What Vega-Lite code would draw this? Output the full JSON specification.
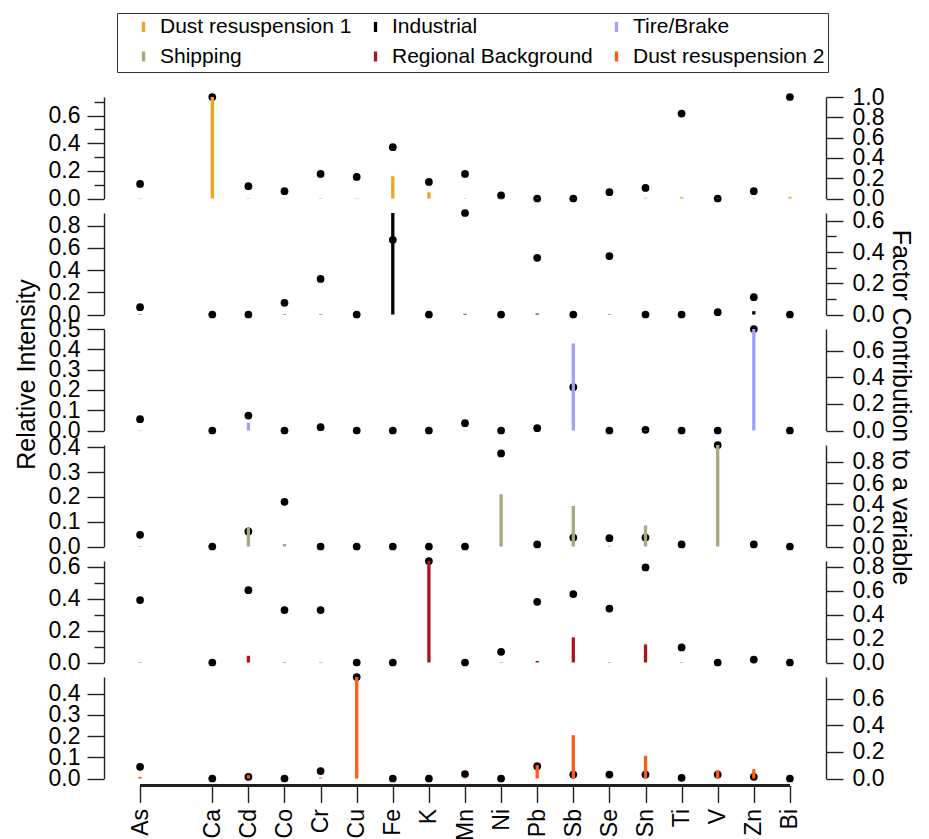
{
  "$schema": "https://vega.github.io/schema/vega-lite/v6.json",
  "autosize": {"type": "pad"},
  "padding": {"left": 14, "top": 12, "right": 4, "bottom": 0},
  "background": "white",
  "bounds": "flush",
  "spacing": 14,
  "config": {
    "view": {"stroke": null},
    "font": "Liberation Sans",
    "axis": {"labelFont": "Liberation Sans", "labelFontSize": 23, "labelColor": "#000", "tickColor": "#222", "domainColor": "#222", "tickWidth": 1.4, "domainWidth": 1.4, "grid": false, "titleFont": "Liberation Sans", "titleFontSize": 25, "titleFontWeight": "normal", "titleColor": "#000", "labelPadding": 7, "tickSize": 17, "labelOverlap": false, "labelFlush": false},
    "legend": {"labelFont": "Liberation Sans", "labelFontSize": 21, "labelColor": "#000", "labelLimit": 400}
  },
  "data": {"values": [
    {"factor": "Dust resuspension 1", "element": "As", "intensity": 0.003, "contribution": 0.144},
    {"factor": "Dust resuspension 1", "element": "Ca", "intensity": 0.734, "contribution": 1.0},
    {"factor": "Dust resuspension 1", "element": "Cd", "intensity": 0.003, "contribution": 0.121},
    {"factor": "Dust resuspension 1", "element": "Co", "intensity": 0.002, "contribution": 0.072},
    {"factor": "Dust resuspension 1", "element": "Cr", "intensity": 0.003, "contribution": 0.242},
    {"factor": "Dust resuspension 1", "element": "Cu", "intensity": 0.003, "contribution": 0.213},
    {"factor": "Dust resuspension 1", "element": "Fe", "intensity": 0.161, "contribution": 0.505},
    {"factor": "Dust resuspension 1", "element": "K", "intensity": 0.045, "contribution": 0.163},
    {"factor": "Dust resuspension 1", "element": "Mn", "intensity": 0.003, "contribution": 0.242},
    {"factor": "Dust resuspension 1", "element": "Ni", "intensity": 0.002, "contribution": 0.03},
    {"factor": "Dust resuspension 1", "element": "Pb", "intensity": 0.002, "contribution": 0.0},
    {"factor": "Dust resuspension 1", "element": "Sb", "intensity": 0.001, "contribution": 0.0},
    {"factor": "Dust resuspension 1", "element": "Se", "intensity": 0.002, "contribution": 0.062},
    {"factor": "Dust resuspension 1", "element": "Sn", "intensity": 0.005, "contribution": 0.104},
    {"factor": "Dust resuspension 1", "element": "Ti", "intensity": 0.01, "contribution": 0.837},
    {"factor": "Dust resuspension 1", "element": "V", "intensity": 0.002, "contribution": 0.0},
    {"factor": "Dust resuspension 1", "element": "Zn", "intensity": 0.003, "contribution": 0.072},
    {"factor": "Dust resuspension 1", "element": "Bi", "intensity": 0.012, "contribution": 1.0},

    {"factor": "Industrial", "element": "As", "intensity": 0.003, "contribution": 0.047},
    {"factor": "Industrial", "element": "Ca", "intensity": 0.0, "contribution": 0.0},
    {"factor": "Industrial", "element": "Cd", "intensity": 0.0, "contribution": 0.0},
    {"factor": "Industrial", "element": "Co", "intensity": 0.003, "contribution": 0.075},
    {"factor": "Industrial", "element": "Cr", "intensity": 0.003, "contribution": 0.228},
    {"factor": "Industrial", "element": "Cu", "intensity": 0.0, "contribution": 0.0},
    {"factor": "Industrial", "element": "Fe", "intensity": 0.915, "contribution": 0.478},
    {"factor": "Industrial", "element": "K", "intensity": 0.0, "contribution": 0.0},
    {"factor": "Industrial", "element": "Mn", "intensity": 0.006, "contribution": 0.65},
    {"factor": "Industrial", "element": "Ni", "intensity": 0.0, "contribution": 0.0},
    {"factor": "Industrial", "element": "Pb", "intensity": 0.008, "contribution": 0.363},
    {"factor": "Industrial", "element": "Sb", "intensity": 0.0, "contribution": 0.0},
    {"factor": "Industrial", "element": "Se", "intensity": 0.003, "contribution": 0.374},
    {"factor": "Industrial", "element": "Sn", "intensity": 0.0, "contribution": 0.0},
    {"factor": "Industrial", "element": "Ti", "intensity": 0.0, "contribution": 0.0},
    {"factor": "Industrial", "element": "V", "intensity": 0.0, "contribution": 0.015},
    {"factor": "Industrial", "element": "Zn", "intensity": 0.03, "contribution": 0.111},
    {"factor": "Industrial", "element": "Bi", "intensity": 0.0, "contribution": 0.0},

    {"factor": "Tire/Brake", "element": "As", "intensity": 0.002, "contribution": 0.085},
    {"factor": "Tire/Brake", "element": "Ca", "intensity": 0.0, "contribution": 0.0},
    {"factor": "Tire/Brake", "element": "Cd", "intensity": 0.039, "contribution": 0.113},
    {"factor": "Tire/Brake", "element": "Co", "intensity": 0.0, "contribution": 0.0},
    {"factor": "Tire/Brake", "element": "Cr", "intensity": 0.0, "contribution": 0.025},
    {"factor": "Tire/Brake", "element": "Cu", "intensity": 0.0, "contribution": 0.0},
    {"factor": "Tire/Brake", "element": "Fe", "intensity": 0.0, "contribution": 0.0},
    {"factor": "Tire/Brake", "element": "K", "intensity": 0.0, "contribution": 0.0},
    {"factor": "Tire/Brake", "element": "Mn", "intensity": 0.002, "contribution": 0.055},
    {"factor": "Tire/Brake", "element": "Ni", "intensity": 0.0, "contribution": 0.0},
    {"factor": "Tire/Brake", "element": "Pb", "intensity": 0.0, "contribution": 0.017},
    {"factor": "Tire/Brake", "element": "Sb", "intensity": 0.429, "contribution": 0.326},
    {"factor": "Tire/Brake", "element": "Se", "intensity": 0.0, "contribution": 0.0},
    {"factor": "Tire/Brake", "element": "Sn", "intensity": 0.002, "contribution": 0.005},
    {"factor": "Tire/Brake", "element": "Ti", "intensity": 0.0, "contribution": 0.0},
    {"factor": "Tire/Brake", "element": "V", "intensity": 0.0, "contribution": 0.0},
    {"factor": "Tire/Brake", "element": "Zn", "intensity": 0.5, "contribution": 0.765},
    {"factor": "Tire/Brake", "element": "Bi", "intensity": 0.0, "contribution": 0.0},

    {"factor": "Shipping", "element": "As", "intensity": 0.002, "contribution": 0.11},
    {"factor": "Shipping", "element": "Ca", "intensity": 0.0, "contribution": 0.0},
    {"factor": "Shipping", "element": "Cd", "intensity": 0.075, "contribution": 0.142},
    {"factor": "Shipping", "element": "Co", "intensity": 0.01, "contribution": 0.423},
    {"factor": "Shipping", "element": "Cr", "intensity": 0.0, "contribution": 0.0},
    {"factor": "Shipping", "element": "Cu", "intensity": 0.0, "contribution": 0.0},
    {"factor": "Shipping", "element": "Fe", "intensity": 0.0, "contribution": 0.0},
    {"factor": "Shipping", "element": "K", "intensity": 0.0, "contribution": 0.0},
    {"factor": "Shipping", "element": "Mn", "intensity": 0.0, "contribution": 0.0},
    {"factor": "Shipping", "element": "Ni", "intensity": 0.211, "contribution": 0.88},
    {"factor": "Shipping", "element": "Pb", "intensity": 0.0, "contribution": 0.02},
    {"factor": "Shipping", "element": "Sb", "intensity": 0.164, "contribution": 0.085},
    {"factor": "Shipping", "element": "Se", "intensity": 0.003, "contribution": 0.079},
    {"factor": "Shipping", "element": "Sn", "intensity": 0.085, "contribution": 0.085},
    {"factor": "Shipping", "element": "Ti", "intensity": 0.0, "contribution": 0.02},
    {"factor": "Shipping", "element": "V", "intensity": 0.41, "contribution": 0.96},
    {"factor": "Shipping", "element": "Zn", "intensity": 0.0, "contribution": 0.02},
    {"factor": "Shipping", "element": "Bi", "intensity": 0.0, "contribution": 0.0},

    {"factor": "Regional Background", "element": "As", "intensity": 0.002, "contribution": 0.523},
    {"factor": "Regional Background", "element": "Ca", "intensity": 0.0, "contribution": 0.0},
    {"factor": "Regional Background", "element": "Cd", "intensity": 0.042, "contribution": 0.606},
    {"factor": "Regional Background", "element": "Co", "intensity": 0.002, "contribution": 0.439},
    {"factor": "Regional Background", "element": "Cr", "intensity": 0.002, "contribution": 0.439},
    {"factor": "Regional Background", "element": "Cu", "intensity": 0.0, "contribution": 0.0},
    {"factor": "Regional Background", "element": "Fe", "intensity": 0.0, "contribution": 0.0},
    {"factor": "Regional Background", "element": "K", "intensity": 0.636, "contribution": 0.85},
    {"factor": "Regional Background", "element": "Mn", "intensity": 0.0, "contribution": 0.0},
    {"factor": "Regional Background", "element": "Ni", "intensity": 0.002, "contribution": 0.09},
    {"factor": "Regional Background", "element": "Pb", "intensity": 0.01, "contribution": 0.508},
    {"factor": "Regional Background", "element": "Sb", "intensity": 0.157, "contribution": 0.573},
    {"factor": "Regional Background", "element": "Se", "intensity": 0.002, "contribution": 0.452},
    {"factor": "Regional Background", "element": "Sn", "intensity": 0.113, "contribution": 0.796},
    {"factor": "Regional Background", "element": "Ti", "intensity": 0.002, "contribution": 0.126},
    {"factor": "Regional Background", "element": "V", "intensity": 0.0, "contribution": 0.0},
    {"factor": "Regional Background", "element": "Zn", "intensity": 0.0, "contribution": 0.025},
    {"factor": "Regional Background", "element": "Bi", "intensity": 0.0, "contribution": 0.0},

    {"factor": "Dust resuspension 2", "element": "As", "intensity": 0.008, "contribution": 0.088},
    {"factor": "Dust resuspension 2", "element": "Ca", "intensity": 0.0, "contribution": 0.0},
    {"factor": "Dust resuspension 2", "element": "Cd", "intensity": 0.015, "contribution": 0.013},
    {"factor": "Dust resuspension 2", "element": "Co", "intensity": 0.0, "contribution": 0.0},
    {"factor": "Dust resuspension 2", "element": "Cr", "intensity": 0.005, "contribution": 0.056},
    {"factor": "Dust resuspension 2", "element": "Cu", "intensity": 0.478, "contribution": 0.763},
    {"factor": "Dust resuspension 2", "element": "Fe", "intensity": 0.0, "contribution": 0.0},
    {"factor": "Dust resuspension 2", "element": "K", "intensity": 0.0, "contribution": 0.0},
    {"factor": "Dust resuspension 2", "element": "Mn", "intensity": 0.005, "contribution": 0.033},
    {"factor": "Dust resuspension 2", "element": "Ni", "intensity": 0.0, "contribution": 0.0},
    {"factor": "Dust resuspension 2", "element": "Pb", "intensity": 0.063, "contribution": 0.093},
    {"factor": "Dust resuspension 2", "element": "Sb", "intensity": 0.204, "contribution": 0.03},
    {"factor": "Dust resuspension 2", "element": "Se", "intensity": 0.0, "contribution": 0.03},
    {"factor": "Dust resuspension 2", "element": "Sn", "intensity": 0.107, "contribution": 0.03},
    {"factor": "Dust resuspension 2", "element": "Ti", "intensity": 0.0, "contribution": 0.005},
    {"factor": "Dust resuspension 2", "element": "V", "intensity": 0.04, "contribution": 0.03},
    {"factor": "Dust resuspension 2", "element": "Zn", "intensity": 0.044, "contribution": 0.013},
    {"factor": "Dust resuspension 2", "element": "Bi", "intensity": 0.0, "contribution": 0.0}
  ]},
  "vconcat": [
    {
      "width": 722, "height": 101.5,
      "transform": [{"filter": "datum.factor === 'Dust resuspension 1'"}],
      "encoding": {"x": {"field": "element", "type": "nominal", "scale": {"type": "point", "padding": 1, "domain": ["As", " ", "Ca", "Cd", "Co", "Cr", "Cu", "Fe", "K", "Mn", "Ni", "Pb", "Sb", "Se", "Sn", "Ti", "V", "Zn", "Bi"]}, "axis": null}},
      "layer": [
        {"mark": {"type": "point", "filled": true, "size": 60, "color": "#000", "opacity": 1},
         "encoding": {"y": {"field": "contribution", "type": "quantitative", "scale": {"nice": false, "zero": true}, "axis": {"orient": "right", "title": null, "tickSize": 17, "labelPadding": 9, "values": [0, 0.2, 0.4, 0.6, 0.8, 1.0], "format": ".1f"}}}},
        {"mark": {"type": "rule", "strokeWidth": 3.3, "strokeCap": "butt"},
         "encoding": {
           "y": {"field": "intensity", "type": "quantitative", "scale": {"nice": false, "zero": true}, "axis": {"orient": "left", "title": null, "values": [0, 0.1, 0.2, 0.3, 0.4, 0.5, 0.6, 0.7], "labelExpr": "abs(datum.value*10 - 2*round(datum.value*5)) < 0.01 ? format(datum.value, '.1f') : ''", "tickSize": {"condition": {"test": "abs(datum.value*10 - 2*round(datum.value*5)) > 0.01", "value": 10}, "value": 17}}},
           "y2": {"datum": 0},
           "color": {"field": "factor", "type": "nominal", "scale": {"domain": ["Dust resuspension 1", "Industrial", "Tire/Brake", "Shipping", "Regional Background", "Dust resuspension 2"], "range": ["#F5A31A", "#000000", "#A0A0FF", "#A9A87A", "#AE1519", "#FF5B14"]},
             "legend": {"orient": "none", "direction": "horizontal", "legendX": 13, "legendY": -84, "title": null, "columns": 3, "symbolType": "M0,-1L0,1", "symbolSize": 100, "symbolStrokeWidth": 3.3, "strokeColor": "#333", "padding": 3, "rowPadding": 5, "columnPadding": 0, "symbolOffset": 13, "labelOffset": 6}}
         }}
      ],
      "resolve": {"scale": {"y": "independent"}}
    },
    {
      "width": 722, "height": 101.5,
      "transform": [{"filter": "datum.factor === 'Industrial'"}],
      "encoding": {"x": {"field": "element", "type": "nominal", "scale": {"type": "point", "padding": 1, "domain": ["As", " ", "Ca", "Cd", "Co", "Cr", "Cu", "Fe", "K", "Mn", "Ni", "Pb", "Sb", "Se", "Sn", "Ti", "V", "Zn", "Bi"]}, "axis": null}},
      "layer": [
        {"mark": {"type": "point", "filled": true, "size": 60, "color": "#000", "opacity": 1},
         "encoding": {"y": {"field": "contribution", "type": "quantitative", "scale": {"nice": false, "zero": true}, "axis": {"orient": "right", "title": null, "labelPadding": 9, "values": [0, 0.1, 0.2, 0.3, 0.4, 0.5, 0.6], "labelExpr": "abs(datum.value*10 - 2*round(datum.value*5)) < 0.01 ? format(datum.value, '.1f') : ''", "tickSize": {"condition": {"test": "abs(datum.value*10 - 2*round(datum.value*5)) > 0.01", "value": 10}, "value": 17}}}}},
        {"mark": {"type": "rule", "strokeWidth": 3.3, "strokeCap": "butt"},
         "encoding": {
           "y": {"field": "intensity", "type": "quantitative", "scale": {"nice": false, "zero": true}, "axis": {"orient": "left", "title": null, "tickSize": 17, "values": [0, 0.2, 0.4, 0.6, 0.8], "format": ".1f"}},
           "y2": {"datum": 0},
           "color": {"field": "factor", "type": "nominal", "scale": {"domain": ["Dust resuspension 1", "Industrial", "Tire/Brake", "Shipping", "Regional Background", "Dust resuspension 2"], "range": ["#F5A31A", "#000000", "#A0A0FF", "#A9A87A", "#AE1519", "#FF5B14"]}}
         }}
      ],
      "resolve": {"scale": {"y": "independent"}}
    },
    {
      "width": 722, "height": 101.5,
      "transform": [{"filter": "datum.factor === 'Tire/Brake'"}],
      "encoding": {"x": {"field": "element", "type": "nominal", "scale": {"type": "point", "padding": 1, "domain": ["As", " ", "Ca", "Cd", "Co", "Cr", "Cu", "Fe", "K", "Mn", "Ni", "Pb", "Sb", "Se", "Sn", "Ti", "V", "Zn", "Bi"]}, "axis": null}},
      "layer": [
        {"mark": {"type": "point", "filled": true, "size": 60, "color": "#000", "opacity": 1},
         "encoding": {"y": {"field": "contribution", "type": "quantitative", "scale": {"nice": false, "zero": true}, "axis": {"orient": "right", "title": "Factor Contribution to a variable", "titleY": 78, "titlePadding": 4, "tickSize": 17, "labelPadding": 9, "values": [0, 0.2, 0.4, 0.6], "format": ".1f"}}}},
        {"mark": {"type": "rule", "strokeWidth": 3.3, "strokeCap": "butt"},
         "encoding": {
           "y": {"field": "intensity", "type": "quantitative", "scale": {"nice": false, "zero": true}, "axis": {"orient": "left", "title": "Relative Intensity", "titleY": 45, "titlePadding": 9, "tickSize": 17, "values": [0, 0.1, 0.2, 0.3, 0.4, 0.5], "format": ".1f"}},
           "y2": {"datum": 0},
           "color": {"field": "factor", "type": "nominal", "scale": {"domain": ["Dust resuspension 1", "Industrial", "Tire/Brake", "Shipping", "Regional Background", "Dust resuspension 2"], "range": ["#F5A31A", "#000000", "#A0A0FF", "#A9A87A", "#AE1519", "#FF5B14"]}}
         }}
      ],
      "resolve": {"scale": {"y": "independent"}}
    },
    {
      "width": 722, "height": 101.5,
      "transform": [{"filter": "datum.factor === 'Shipping'"}],
      "encoding": {"x": {"field": "element", "type": "nominal", "scale": {"type": "point", "padding": 1, "domain": ["As", " ", "Ca", "Cd", "Co", "Cr", "Cu", "Fe", "K", "Mn", "Ni", "Pb", "Sb", "Se", "Sn", "Ti", "V", "Zn", "Bi"]}, "axis": null}},
      "layer": [
        {"mark": {"type": "point", "filled": true, "size": 60, "color": "#000", "opacity": 1},
         "encoding": {"y": {"field": "contribution", "type": "quantitative", "scale": {"nice": false, "zero": true}, "axis": {"orient": "right", "title": null, "tickSize": 17, "labelPadding": 9, "values": [0, 0.2, 0.4, 0.6, 0.8], "format": ".1f"}}}},
        {"mark": {"type": "rule", "strokeWidth": 3.3, "strokeCap": "butt"},
         "encoding": {
           "y": {"field": "intensity", "type": "quantitative", "scale": {"nice": false, "zero": true}, "axis": {"orient": "left", "title": null, "tickSize": 17, "values": [0, 0.1, 0.2, 0.3, 0.4], "format": ".1f"}},
           "y2": {"datum": 0},
           "color": {"field": "factor", "type": "nominal", "scale": {"domain": ["Dust resuspension 1", "Industrial", "Tire/Brake", "Shipping", "Regional Background", "Dust resuspension 2"], "range": ["#F5A31A", "#000000", "#A0A0FF", "#A9A87A", "#AE1519", "#FF5B14"]}}
         }}
      ],
      "resolve": {"scale": {"y": "independent"}}
    },
    {
      "width": 722, "height": 101.5,
      "transform": [{"filter": "datum.factor === 'Regional Background'"}],
      "encoding": {"x": {"field": "element", "type": "nominal", "scale": {"type": "point", "padding": 1, "domain": ["As", " ", "Ca", "Cd", "Co", "Cr", "Cu", "Fe", "K", "Mn", "Ni", "Pb", "Sb", "Se", "Sn", "Ti", "V", "Zn", "Bi"]}, "axis": null}},
      "layer": [
        {"mark": {"type": "point", "filled": true, "size": 60, "color": "#000", "opacity": 1},
         "encoding": {"y": {"field": "contribution", "type": "quantitative", "scale": {"nice": false, "zero": true}, "axis": {"orient": "right", "title": null, "tickSize": 17, "labelPadding": 9, "values": [0, 0.2, 0.4, 0.6, 0.8], "format": ".1f"}}}},
        {"mark": {"type": "rule", "strokeWidth": 3.3, "strokeCap": "butt"},
         "encoding": {
           "y": {"field": "intensity", "type": "quantitative", "scale": {"nice": false, "zero": true}, "axis": {"orient": "left", "title": null, "values": [0, 0.1, 0.2, 0.3, 0.4, 0.5, 0.6], "labelExpr": "abs(datum.value*10 - 2*round(datum.value*5)) < 0.01 ? format(datum.value, '.1f') : ''", "tickSize": {"condition": {"test": "abs(datum.value*10 - 2*round(datum.value*5)) > 0.01", "value": 10}, "value": 17}}},
           "y2": {"datum": 0},
           "color": {"field": "factor", "type": "nominal", "scale": {"domain": ["Dust resuspension 1", "Industrial", "Tire/Brake", "Shipping", "Regional Background", "Dust resuspension 2"], "range": ["#F5A31A", "#000000", "#A0A0FF", "#A9A87A", "#AE1519", "#FF5B14"]}}
         }}
      ],
      "resolve": {"scale": {"y": "independent"}}
    },
    {
      "width": 722, "height": 101.5,
      "transform": [{"filter": "datum.factor === 'Dust resuspension 2'"}],
      "encoding": {"x": {"field": "element", "type": "nominal", "scale": {"type": "point", "padding": 1, "domain": ["As", " ", "Ca", "Cd", "Co", "Cr", "Cu", "Fe", "K", "Mn", "Ni", "Pb", "Sb", "Se", "Sn", "Ti", "V", "Zn", "Bi"]},
        "axis": {"title": null, "domain": false, "labelAngle": 270, "labelAlign": "right", "labelBaseline": "middle", "tickSize": 17, "labelPadding": 6, "offset": 7, "tickOpacity": {"condition": {"test": "datum.value === ' '", "value": 0}, "value": 1}}}},
      "layer": [
        {"mark": {"type": "point", "filled": true, "size": 60, "color": "#000", "opacity": 1},
         "encoding": {"y": {"field": "contribution", "type": "quantitative", "scale": {"nice": false, "zero": true}, "axis": {"orient": "right", "title": null, "tickSize": 17, "labelPadding": 9, "values": [0, 0.2, 0.4, 0.6], "format": ".1f"}}}},
        {"layer": [
          {"mark": {"type": "rule", "strokeWidth": 3.3, "strokeCap": "butt"},
           "encoding": {
             "y": {"field": "intensity", "type": "quantitative", "scale": {"nice": false, "zero": true}, "axis": {"orient": "left", "title": null, "tickSize": 17, "labelOverlap": false, "values": [0, 0.1, 0.2, 0.3, 0.4], "format": ".1f"}},
             "y2": {"datum": 0},
             "color": {"field": "factor", "type": "nominal", "scale": {"domain": ["Dust resuspension 1", "Industrial", "Tire/Brake", "Shipping", "Regional Background", "Dust resuspension 2"], "range": ["#F5A31A", "#000000", "#A0A0FF", "#A9A87A", "#AE1519", "#FF5B14"]}}
           }},
          {"mark": {"type": "rule", "strokeWidth": 1.4, "color": "#222", "yOffset": 7},
           "encoding": {
             "x": {"datum": "As"},
             "x2": {"datum": "Bi"},
             "y": {"datum": 0, "type": "quantitative", "axis": {"orient": "left", "title": null, "tickSize": 17, "labelOverlap": false, "values": [0, 0.1, 0.2, 0.3, 0.4], "format": ".1f"}}
           }}
        ]}
      ],
      "resolve": {"scale": {"y": "independent"}}
    }
  ]
}
